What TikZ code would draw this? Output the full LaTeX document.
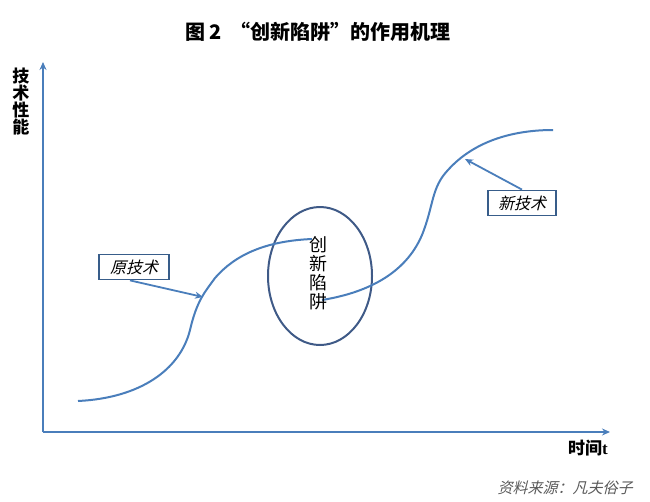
\documentclass[tikz,border=0pt]{standalone}
\usepackage{fontspec}
\setmainfont{Noto Sans CJK SC}
\newfontfamily\cjk{Noto Sans CJK SC}
\newfontfamily\cjkit[FakeSlant=0.25]{Noto Sans CJK SC}
\newfontfamily\tserif{Liberation Serif}
\usetikzlibrary{arrows.meta,shapes.geometric}
\definecolor{lineblue}{HTML}{4A7EBB}
\definecolor{boxblue}{HTML}{385D8A}
\definecolor{ellblue}{HTML}{3F5A87}
\definecolor{srcgray}{HTML}{595959}
\tikzset{
  axis/.style={draw=lineblue, line width=2pt, -{Stealth[length=8pt,width=7pt]}},
  curve/.style={draw=lineblue, line width=2pt},
  callout/.style={draw=lineblue, line width=1.8pt, -{Stealth[length=8pt,width=7pt,open]}},
  tag/.style={draw=boxblue, line width=1.8pt, fill=white, minimum width=70pt, minimum height=25pt, inner sep=0pt, font=\cjkit\fontsize{16}{16}\selectfont},
  lbl/.style={font=\cjk\bfseries\fontsize{17}{17}\selectfont, align=center, inner sep=0pt}
}
\begin{document}
\begin{tikzpicture}[x=1pt,y=-1pt]
\useasboundingbox (0,0) rectangle (650,501);
% title
\node[font=\cjk\bfseries\fontsize{20}{20}\selectfont, inner sep=0pt] (title) at (318,32) {图 2\ \ “创新陷阱”的作用机理};
% axes
\coordinate (o) at (43,432);
\coordinate (ytop) at (43,62);
\coordinate (xend) at (610,432);
\draw[axis] (o) -- (ytop);
\draw[axis] (o) -- (xend);
\node[lbl, font=\cjk\bfseries\fontsize{17}{17}\selectfont] (ylab) at (21,102) {技\\术\\性\\能};
\node[lbl, anchor=east] (xlab) at (608,448) {时间{\tserif\bfseries t}};
\node[font=\cjkit\fontsize{15}{15}\selectfont, text=srcgray, inner sep=0pt] (src) at (565,488) {资料来源：凡夫俗子};
% ellipse
\node[ellipse, draw=ellblue, line width=2pt, minimum width=104pt, minimum height=138pt, inner sep=0pt] (trap) at (320,276) {};
% curves
\coordinate (c1s) at (78,401);
\coordinate (c1e) at (312,239);
\draw[curve] (c1s) .. controls (140,398) and (180,370) .. (190,330)
  .. controls (197,300) and (205,292) .. (215,278)
  .. controls (235,255) and (265,241) .. (c1e);
\coordinate (c2s) at (322,300);
\coordinate (c2e) at (553,130);
\draw[curve] (c2s) .. controls (365,293) and (405,275) .. (422,235)
  .. controls (434,205) and (431,188) .. (448,170)
  .. controls (475,140) and (515,130) .. (c2e);
\node[font=\cjk\fontsize{18}{19}\selectfont, align=center, inner sep=0pt] (trapt) at (318,273) {创\\新\\陷\\阱};
% tags
\node[tag] (old) at (134,267) {原技术};
\node[tag, minimum width=68pt] (new) at (522,203) {新技术};
\coordinate (oldtip) at (203,297);
\coordinate (newtip) at (465,159);
\draw[callout] (old.south) ++(-4,0) coordinate (olds) -- (oldtip);
\draw[callout] (new.north) -- (newtip);
\end{tikzpicture}
\end{document}
